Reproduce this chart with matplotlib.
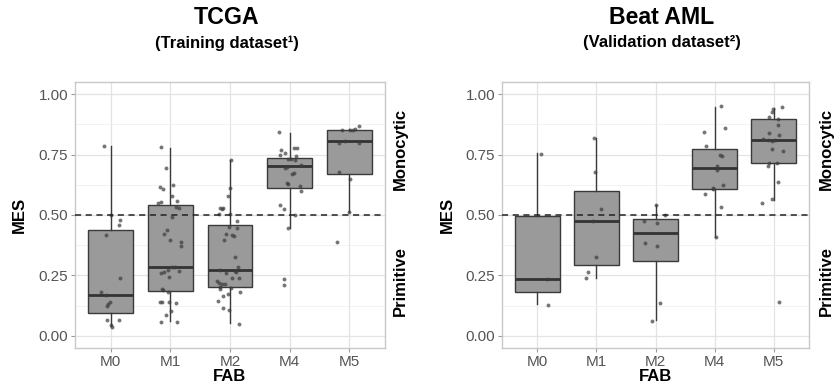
import numpy as np
import matplotlib
matplotlib.use("Agg")
import matplotlib.pyplot as plt
from matplotlib.ticker import MultipleLocator

plt.rcParams['font.family'] = ['Liberation Sans', 'DejaVu Sans']

categories = ['M0', 'M1', 'M2', 'M4', 'M5']

# box statistics
tcga_q1 = [0.093, 0.184, 0.203, 0.613, 0.671]
tcga_med = [0.170, 0.285, 0.274, 0.704, 0.805]
tcga_q3 = [0.438, 0.542, 0.458, 0.737, 0.852]
tcga_lo = [0.041, 0.062, 0.052, 0.446, 0.512]
tcga_hi = [0.785, 0.779, 0.727, 0.841, 0.857]

beat_q1 = [0.181, 0.295, 0.311, 0.606, 0.717]
beat_med = [0.235, 0.475, 0.425, 0.695, 0.812]
beat_q3 = [0.495, 0.598, 0.484, 0.775, 0.898]
beat_lo = [0.130, 0.240, 0.064, 0.407, 0.562]
beat_hi = [0.757, 0.819, 0.542, 0.947, 0.942]

# jittered points: values and horizontal jitter per group
tcga_m0 = [0.786, 0.498, 0.479, 0.46, 0.417, 0.240, 0.182, 0.171, 0.141, 0.133, 0.123, 0.064, 0.064, 0.044, 0.038]
tcga_m0_jit = [-0.12, 0.0, 0.16, 0.14, -0.08, 0.16, -0.16, -0.08, -0.02, -0.04, -0.06, -0.06, 0.13, 0.01, 0.02]
tcga_m1 = [0.781, 0.693, 0.616, 0.608, 0.624, 0.579, 0.558, 0.549, 0.554, 0.534, 0.528, 0.490, 0.438, 0.42,
           0.398, 0.39, 0.372, 0.261, 0.265, 0.273, 0.284, 0.285, 0.270, 0.244, 0.196, 0.189, 0.180, 0.140,
           0.140, 0.141, 0.137, 0.103, 0.086, 0.059, 0.059]
tcga_m1_jit = [-0.15, -0.07, -0.17, -0.12, 0.05, 0.02, 0.11, -0.2, -0.16, 0.09, 0.14, 0.03, -0.05, -0.11,
               0.0, 0.18, 0.18, -0.16, -0.11, -0.04, 0.02, 0.07, 0.15, -0.03, -0.14, -0.12, -0.04, -0.17,
               -0.14, -0.03, 0.1, 0.01, -0.08, -0.15, 0.11]
tcga_m2 = [0.726, 0.612, 0.578, 0.531, 0.525, 0.531, 0.503, 0.506, 0.477, 0.451, 0.446, 0.422, 0.417, 0.412,
           0.395, 0.328, 0.285, 0.273, 0.262, 0.270, 0.263, 0.240, 0.240, 0.226, 0.219, 0.213, 0.213, 0.203,
           0.198, 0.192, 0.182, 0.174, 0.163, 0.145, 0.114, 0.106, 0.051]
tcga_m2_jit = [0.02, 0.0, -0.03, -0.17, -0.14, -0.11, -0.18, 0.0, 0.11, -0.01, 0.11, -0.07, 0.03, 0.07,
               -0.1, 0.09, 0.13, -0.16, -0.07, 0.08, 0.1, 0.03, 0.15, -0.21, -0.19, -0.14, -0.08, -0.17,
               0.01, -0.16, 0.16, -0.03, -0.12, -0.2, -0.11, -0.01, 0.15]
tcga_m4 = [0.842, 0.768, 0.756, 0.749, 0.778, 0.778, 0.731, 0.727, 0.745, 0.731, 0.708, 0.700, 0.693, 0.672,
           0.668, 0.634, 0.628, 0.619, 0.599, 0.540, 0.524, 0.502, 0.446, 0.237, 0.210]
tcga_m4_jit = [-0.18, -0.15, -0.08, -0.16, 0.07, 0.13, 0.03, 0.09, 0.11, -0.02, 0.19, -0.05, -0.07, 0.08,
               0.04, -0.04, -0.03, 0.18, 0.19, -0.16, -0.09, 0.09, -0.02, -0.1, -0.09]
tcga_m5 = [0.853, 0.853, 0.852, 0.857, 0.870, 0.796, 0.807, 0.797, 0.679, 0.649, 0.512, 0.388]
tcga_m5_jit = [-0.12, 0.02, 0.06, 0.1, 0.16, -0.18, -0.07, 0.17, -0.17, 0.02, 0.0, -0.2]

beat_m0 = [0.754, 0.235, 0.128]
beat_m0_jit = [0.06, 0.17, 0.18]
beat_m1 = [0.819, 0.676, 0.523, 0.475, 0.326, 0.265, 0.240]
beat_m1_jit = [-0.05, -0.02, 0.07, -0.06, -0.01, -0.15, -0.17]
beat_m2 = [0.542, 0.501, 0.477, 0.468, 0.384, 0.372, 0.136, 0.062]
beat_m2_jit = [0.01, 0.16, -0.2, 0.03, -0.18, 0.02, 0.07, -0.06]
beat_m4 = [0.949, 0.845, 0.861, 0.785, 0.750, 0.745, 0.704, 0.695, 0.686, 0.624, 0.613, 0.608, 0.587, 0.535, 0.409]
beat_m4_jit = [0.11, -0.18, 0.18, -0.14, 0.09, 0.13, 0.05, 0.05, 0.04, 0.15, -0.03, -0.02, -0.16, 0.11, 0.03]
beat_m5 = [0.947, 0.937, 0.926, 0.905, 0.896, 0.871, 0.841, 0.830, 0.813, 0.809, 0.808, 0.809, 0.774, 0.763,
           0.716, 0.704, 0.716, 0.635, 0.565, 0.550, 0.140]
beat_m5_jit = [0.14, -0.01, -0.03, -0.08, 0.08, 0.08, -0.08, 0.09, -0.18, -0.10, -0.03, 0.02, -0.03, 0.16,
               -0.08, -0.09, 0.05, 0.07, -0.03, -0.2, 0.09]


def draw_panel(ax, q1, med, q3, lo, hi, points, jitters):
    pos = np.arange(1, len(categories) + 1)
    stats = []
    for i in range(len(categories)):
        stats.append(dict(med=med[i], q1=q1[i], q3=q3[i], whislo=lo[i], whishi=hi[i], fliers=[]))
    ax.bxp(stats, positions=pos, widths=0.75, patch_artist=True, showfliers=False, showcaps=False,
           boxprops=dict(facecolor='#9a9a9a', edgecolor='#3a3a3a', linewidth=1.0),
           medianprops=dict(color='#333333', linewidth=2.0),
           whiskerprops=dict(color='#3a3a3a', linewidth=1.0), zorder=2)
    for i, (vals, jit) in enumerate(zip(points, jitters)):
        ax.scatter(pos[i] + np.array(jit), vals, s=8, color='#3c3c3c', alpha=0.7, linewidths=0, zorder=3)

    ax.axhline(0.5, color='#222222', linestyle=(0, (4, 3)), linewidth=1.1, zorder=4)

    ax.set_xlim(0.4, 5.6)
    ax.set_ylim(-0.05, 1.05)
    ax.set_xticks(pos)
    ax.set_xticklabels(categories)
    ax.yaxis.set_major_locator(MultipleLocator(0.25))
    ax.yaxis.set_minor_locator(MultipleLocator(0.125))
    ax.yaxis.set_major_formatter(plt.FuncFormatter(lambda v, p: f'{v:.2f}'))
    ax.grid(True, which='major', color='#e3e3e3', linewidth=0.9, zorder=0)
    ax.grid(True, which='minor', axis='y', color='#f0f0f0', linewidth=0.6, zorder=0)
    ax.set_axisbelow(True)
    ax.tick_params(which='major', length=3, width=0.8, color='#999999', labelsize=11,
                   labelcolor='#555555', pad=2)
    ax.tick_params(which='minor', length=0)
    for sp in ax.spines.values():
        sp.set_color('#c8c8c8')
        sp.set_linewidth(1.0)

    ax.set_ylabel('MES', fontsize=12, fontweight='bold')
    ax.set_xlabel('FAB', fontsize=12, fontweight='bold')
    ax.yaxis.set_label_coords(-0.178, 0.5)
    ax.xaxis.set_label_coords(0.5, -0.109)
    ax.xaxis.label.set_va('center')
    ax.yaxis.label.set_va('center')


fig = plt.figure(figsize=(8.34, 3.87), dpi=100)
ax1 = fig.add_axes([75 / 834, 1 - 348 / 387, 310 / 834, 266 / 387])
ax2 = fig.add_axes([502 / 834, 1 - 348 / 387, 307 / 834, 266 / 387])

draw_panel(ax1, tcga_q1, tcga_med, tcga_q3, tcga_lo, tcga_hi,
           [tcga_m0, tcga_m1, tcga_m2, tcga_m4, tcga_m5],
           [tcga_m0_jit, tcga_m1_jit, tcga_m2_jit, tcga_m4_jit, tcga_m5_jit])
draw_panel(ax2, beat_q1, beat_med, beat_q3, beat_lo, beat_hi,
           [beat_m0, beat_m1, beat_m2, beat_m4, beat_m5],
           [beat_m0_jit, beat_m1_jit, beat_m2_jit, beat_m4_jit, beat_m5_jit])

for ax, xs in ((ax1, 1.048), (ax2, 1.055)):
    tr = ax.get_yaxis_transform()
    ax.text(xs, 0.775, 'Monocytic', transform=tr, rotation=90, ha='center', va='center',
            fontsize=12, fontweight='bold')
    ax.text(xs, 0.225, 'Primitive', transform=tr, rotation=90, ha='center', va='center',
            fontsize=12, fontweight='bold')

fig.text(227 / 834, 1 - 18 / 387, 'TCGA', ha='center', va='center', fontsize=16.7, fontweight='bold')
fig.text(227 / 834, 1 - 43 / 387, '(Training dataset¹)', ha='center', va='center', fontsize=12, fontweight='bold')
fig.text(662 / 834, 1 - 18 / 387, 'Beat AML', ha='center', va='center', fontsize=16.7, fontweight='bold')
fig.text(662 / 834, 1 - 43 / 387, '(Validation dataset²)', ha='center', va='center', fontsize=12, fontweight='bold')

plt.savefig('out.png', dpi=100)
